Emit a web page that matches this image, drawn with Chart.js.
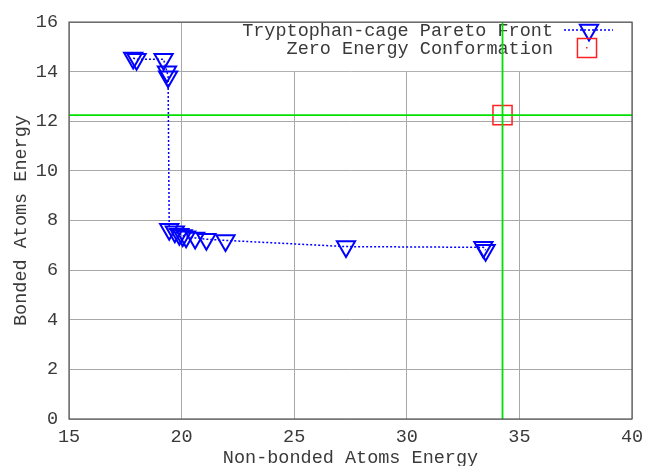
<!DOCTYPE html>
<html>
<head>
<meta charset="utf-8">
<script src="https://cdn.jsdelivr.net/npm/chart.js@4/dist/chart.umd.min.js"></script>
<style>
  html, body { margin: 0; padding: 0; background: #fff; }
  #wrap { width: 647px; height: 466px; position: relative; }
</style>
</head>
<body>
<div id="wrap"><canvas id="paretoChart"></canvas></div>
<script>
// pareto front points
const frontX = [17.85, 18.0, 19.2, 19.35, 19.4, 19.45, 19.7, 19.9, 20.05, 20.2, 20.6, 21.1, 21.95, 27.3, 33.4, 33.5];
const frontY = [14.55, 14.5, 14.5, 14.0, 13.8, 7.65, 7.55, 7.45, 7.4, 7.35, 7.3, 7.25, 7.2, 6.95, 6.92, 6.8];

// zero energy conformation
const zeroX = [34.25];
const zeroY = [12.25];

const xTicks = [15, 20, 25, 30, 35, 40];
const yTicks = [0, 2, 4, 6, 8, 10, 12, 14, 16];

const seriesNames = ['Tryptophan-cage Pareto Front', 'Zero Energy Conformation'];

const FONT = '"Liberation Mono", "Courier New", monospace';
const FSIZE = 18.5;
const TEXT = '#3a3a3a';
const BLUE = '#0000ff';
const RED = '#ff2020';
const GREEN = '#00e000';
const CLEAR = 'rgba(0,0,0,0)';

const triangleStyle = { pointStyle: 'triangle', rotation: 180, radius: 10.5, borderWidth: 2 };
const squareStyle = { pointStyle: 'rect', rotation: 0, radius: 13.5, borderWidth: 1.5 };

// white key box + legend entries, drawn before the data like gnuplot does
const keyPlugin = {
    id: 'keyBox',
    beforeDatasetsDraw(chart) {
        const ctx = chart.ctx;
        const area = chart.chartArea;
        ctx.save();
        ctx.fillStyle = '#fff';
        ctx.fillRect(232, area.top + 1, area.right - 233, 48);

        ctx.font = FSIZE + 'px ' + FONT;
        ctx.fillStyle = TEXT;
        ctx.textAlign = 'right';
        ctx.textBaseline = 'middle';
        ctx.fillText(seriesNames[0], 553, 31);
        ctx.fillText(seriesNames[1], 553, 49);

        // sample line for the front
        ctx.strokeStyle = BLUE;
        ctx.lineWidth = 1.5;
        ctx.setLineDash([2, 2]);
        ctx.beginPath();
        ctx.moveTo(564, 30);
        ctx.lineTo(613, 30);
        ctx.stroke();
        ctx.setLineDash([]);

        ctx.fillStyle = CLEAR;
        ctx.strokeStyle = BLUE;
        ctx.lineWidth = triangleStyle.borderWidth;
        Chart.helpers.drawPoint(ctx, triangleStyle, 589, 30);

        ctx.strokeStyle = RED;
        ctx.lineWidth = squareStyle.borderWidth;
        Chart.helpers.drawPoint(ctx, squareStyle, 587, 48);
        ctx.fillStyle = RED;
        ctx.fillRect(586, 47, 1.5, 1.5);
        ctx.restore();
    },
    afterDraw(chart) {
        const ctx = chart.ctx;
        const a = chart.chartArea;
        ctx.save();
        ctx.strokeStyle = '#555';
        ctx.lineWidth = 1.2;
        ctx.strokeRect(a.left, a.top, a.right - a.left, a.bottom - a.top);
        ctx.restore();
    }
};

const frontPoints = frontX.map((x, i) => ({ x: x, y: frontY[i] }));
const zeroPoints = zeroX.map((x, i) => ({ x: x, y: zeroY[i] }));

const ctx = document.getElementById('paretoChart').getContext('2d');
const myChart = new Chart(ctx, {
    type: 'scatter',
    data: {
        datasets: [
            {
                // vertical guide through the zero energy point
                data: [{ x: zeroX[0], y: yTicks[0] }, { x: zeroX[0], y: yTicks[yTicks.length - 1] }],
                showLine: true,
                borderColor: GREEN,
                borderWidth: 1.8,
                pointRadius: 0
            },
            {
                // horizontal guide
                data: [{ x: xTicks[0], y: zeroY[0] }, { x: xTicks[xTicks.length - 1], y: zeroY[0] }],
                showLine: true,
                borderColor: GREEN,
                borderWidth: 1.8,
                pointRadius: 0
            },
            {
                label: seriesNames[0],
                data: frontPoints,
                showLine: true,
                borderColor: BLUE,
                borderWidth: 1.5,
                borderDash: [2, 2],
                backgroundColor: CLEAR,
                pointStyle: 'triangle',
                rotation: 180,
                pointRadius: triangleStyle.radius,
                pointBorderWidth: 2,
                pointBorderColor: BLUE,
                pointBackgroundColor: CLEAR
            },
            {
                label: seriesNames[1],
                data: zeroPoints,
                showLine: false,
                pointStyle: 'rect',
                pointRadius: squareStyle.radius,
                pointBorderWidth: squareStyle.borderWidth,
                pointBorderColor: RED,
                pointBackgroundColor: CLEAR
            },
            {
                // little centre dot of the gnuplot box marker
                data: zeroPoints,
                pointStyle: 'circle',
                pointRadius: 1,
                pointBorderWidth: 0,
                pointBackgroundColor: RED
            }
        ]
    },
    options: {
        responsive: true,
        maintainAspectRatio: false,
        animation: false,
        layout: { padding: { top: 18, right: 0, left: 0, bottom: 0 } },
        plugins: {
            legend: { display: false },
            tooltip: { enabled: false }
        },
        scales: {
            x: {
                type: 'linear',
                min: xTicks[0],
                max: xTicks[xTicks.length - 1],
                afterBuildTicks(scale) { scale.ticks = xTicks.map(v => ({ value: v })); },
                afterFit(scale) { scale.height = 47; scale.paddingRight = 9; },
                grid: { color: '#a8a8a8', lineWidth: 1, drawTicks: false },
                border: { display: false },
                ticks: {
                    padding: 7,
                    color: TEXT,
                    font: { family: FONT, size: FSIZE },
                    maxRotation: 0
                },
                title: {
                    display: true,
                    text: 'Non-bonded Atoms Energy',
                    color: TEXT,
                    font: { family: FONT, size: FSIZE },
                    padding: { top: 0, bottom: -3 }
                }
            },
            y: {
                type: 'linear',
                min: yTicks[0],
                max: yTicks[yTicks.length - 1],
                afterBuildTicks(scale) { scale.ticks = yTicks.map(v => ({ value: v })); },
                afterFit(scale) { scale.width = 69; },
                grid: { color: '#a8a8a8', lineWidth: 1, drawTicks: false },
                border: { display: false },
                ticks: {
                    padding: 11,
                    color: TEXT,
                    font: { family: FONT, size: FSIZE }
                },
                title: {
                    display: true,
                    text: 'Bonded Atoms Energy',
                    color: TEXT,
                    font: { family: FONT, size: FSIZE },
                    padding: { top: 10, bottom: 0 }
                }
            }
        }
    },
    plugins: [keyPlugin]
});
</script>
</body>
</html>
